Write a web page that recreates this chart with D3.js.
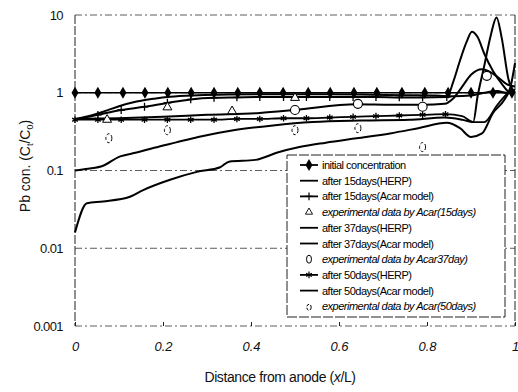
<!DOCTYPE html>
<html>
<head>
<meta charset="utf-8">
<script src="https://cdn.jsdelivr.net/npm/d3@7"></script>
<style>
  body { margin: 0; background: #fff; }
  svg { font-family: "Liberation Sans", Arial, sans-serif; }
</style>
</head>
<body>
<div id="chart"></div>
<script>
// ---- data ----
const initX = [0, 0.052, 0.109, 0.159, 0.211, 0.264, 0.316, 0.37, 0.42, 0.473, 0.53, 0.58, 0.634, 0.686, 0.743, 0.795, 0.848, 0.9, 0.95, 0.993];
const initY = [1, 1, 1, 1, 1, 1, 1, 1, 1, 1, 1, 1, 1, 1, 1, 1, 1, 1, 1, 1];

const herp15X = [0, 0.03, 0.064, 0.1, 0.14, 0.18, 0.216, 0.28, 0.35, 0.45, 0.55, 0.65, 0.75, 0.82, 0.86, 0.9, 0.93, 0.96, 0.98, 1];
const herp15Y = [0.46, 0.5, 0.57, 0.67, 0.77, 0.84, 0.89, 0.93, 0.95, 0.96, 0.96, 0.95, 0.93, 0.92, 0.9, 0.92, 1.0, 1.05, 1.0, 1.0];

const acar15X = [0, 0.052, 0.105, 0.158, 0.21, 0.263, 0.316, 0.368, 0.42, 0.474, 0.526, 0.579, 0.632, 0.684, 0.737, 0.79, 0.845, 0.86, 0.875, 0.89, 0.902, 0.915, 0.93, 0.95, 0.97, 0.99, 1];
const acar15Y = [0.45, 0.52, 0.6, 0.66, 0.74, 0.82, 0.86, 0.87, 0.88, 0.88, 0.88, 0.88, 0.88, 0.88, 0.87, 0.87, 0.88, 1.4, 2.6, 4.5, 6.1, 5.2, 3.2, 1.9, 1.3, 1.0, 1.05];

const exp15X = [0.073, 0.21, 0.357, 0.5];
const exp15Y = [0.45, 0.65, 0.58, 0.86];

const herp37X = [0, 0.1, 0.2, 0.3, 0.42, 0.5, 0.64, 0.72, 0.79, 0.84, 0.86, 0.88, 0.9, 0.925, 0.94, 0.96, 0.98, 1];
const herp37Y = [0.46, 0.47, 0.49, 0.52, 0.55, 0.6, 0.71, 0.7, 0.7, 0.72, 0.85, 1.2, 1.7, 2.0, 1.9, 1.6, 1.3, 1.2];

const acar37X = [0, 0.03, 0.064, 0.1, 0.14, 0.18, 0.23, 0.28, 0.36, 0.45, 0.54, 0.65, 0.76, 0.84, 0.88, 0.905, 0.915, 0.93, 0.945, 0.958, 0.97, 0.985, 1];
const acar37Y = [0.1, 0.105, 0.115, 0.15, 0.17, 0.196, 0.23, 0.27, 0.33, 0.38, 0.42, 0.44, 0.45, 0.48, 0.45, 0.42, 0.9, 2.2, 5.5, 9.3, 5.0, 1.5, 1.0];

const exp37X = [0.5, 0.643, 0.79, 0.936];
const exp37Y = [0.6, 0.72, 0.66, 1.65];

const herp50X = [0, 0.052, 0.105, 0.158, 0.21, 0.263, 0.316, 0.368, 0.42, 0.474, 0.526, 0.579, 0.632, 0.684, 0.737, 0.79, 0.842, 0.88, 0.905, 0.93, 0.96, 0.985, 1];
const herp50Y = [0.45, 0.45, 0.45, 0.45, 0.45, 0.45, 0.45, 0.46, 0.46, 0.47, 0.47, 0.48, 0.49, 0.5, 0.51, 0.52, 0.53, 0.5, 0.42, 0.42, 0.7, 1.0, 1.1];

const acar50X = [0, 0.027, 0.064, 0.125, 0.155, 0.216, 0.277, 0.33, 0.35, 0.41, 0.46, 0.51, 0.57, 0.64, 0.716, 0.78, 0.845, 0.875, 0.9, 0.925, 0.95, 0.975, 0.99, 1];
const acar50Y = [0.016, 0.038, 0.04, 0.046, 0.056, 0.076, 0.096, 0.11, 0.13, 0.137, 0.17, 0.2, 0.228, 0.26, 0.3, 0.35, 0.41, 0.35, 0.27, 0.3, 0.55, 0.8, 1.2, 2.4];

const exp50X = [0.077, 0.21, 0.5, 0.643, 0.79];
const exp50Y = [0.26, 0.33, 0.33, 0.35, 0.2];

const xTicks = [0, 0.2, 0.4, 0.6, 0.8, 1];
const xTickLabels = ["0", "0.2", "0.4", "0.6", "0.8", "1"];
const yTicks = [0.001, 0.01, 0.1, 1, 10];
const yTickLabels = ["0.001", "0.01", "0.1", "1", "10"];

const legendLabels = [
  "initial concentration",
  "after 15days(HERP)",
  "after 15days(Acar model)",
  "experimental data by Acar(15days)",
  "after 37days(HERP)",
  "after 37days(Acar model)",
  "experimental data by Acar37day)",
  "after 50days(HERP)",
  "after 50days(Acar model)",
  "experimental data by Acar(50days)"
];

// ---- drawing ----
const W = 518, H = 392;
const svg = d3.select("#chart").append("svg").attr("width", W).attr("height", H);

const x = d3.scaleLinear().domain([0, 1]).range([75, 515]);
const y = d3.scaleLog().domain([0.001, 10]).range([326, 15]);

const zip = (xs, ys) => xs.map((v, i) => [v, ys[i]]);

// grid (dashed decade lines)
svg.append("g").selectAll("line").data(yTicks).enter().append("line")
  .attr("x1", x(0)).attr("x2", x(1))
  .attr("y1", d => y(d)).attr("y2", d => y(d))
  .attr("stroke", "#333").attr("stroke-width", 0.8)
  .attr("stroke-dasharray", "7,3,2,3");

// plot frame sides
svg.append("line").attr("x1", x(0)).attr("x2", x(0)).attr("y1", y(10)).attr("y2", y(0.001))
  .attr("stroke", "#222").attr("stroke-width", 1).attr("stroke-dasharray", "9,2");
svg.append("line").attr("x1", x(1)).attr("x2", x(1)).attr("y1", y(10)).attr("y2", y(0.001))
  .attr("stroke", "#222").attr("stroke-width", 1).attr("stroke-dasharray", "9,2");

// x axis ticks pointing inwards
const xAxis = d3.axisBottom(x).tickValues(xTicks).tickSize(-4).tickFormat((d, i) => xTickLabels[i]).tickPadding(16);
const gx = svg.append("g").attr("transform", `translate(0,${y(0.001)})`).call(xAxis);
gx.select(".domain").remove();
gx.selectAll("line").attr("stroke", "#222");
gx.selectAll("text").attr("font-size", 13).attr("font-style", "italic").attr("fill", "#111");

const yAxis = d3.axisLeft(y).tickValues(yTicks).tickSize(0).tickFormat((d, i) => yTickLabels[i]).tickPadding(12);
const gy = svg.append("g").attr("transform", `translate(${x(0)},0)`).call(yAxis);
gy.select(".domain").remove();
gy.selectAll("text").attr("font-size", 13).attr("fill", "#111").attr("letter-spacing", -0.6);

// axis titles
svg.append("text").attr("x", 280).attr("y", 382).attr("text-anchor", "middle")
  .attr("font-size", 14).attr("letter-spacing", -0.4).attr("fill", "#111")
  .html('Distance from anode (<tspan font-style="italic">x</tspan>/L)');
const yt = svg.append("text").attr("transform", "translate(30,166) rotate(-90)")
  .attr("text-anchor", "middle").attr("font-size", 14).attr("fill", "#111");
yt.append("tspan").text("Pb con. (C");
yt.append("tspan").attr("font-size", 9).attr("dy", 3).text("t");
yt.append("tspan").attr("dy", -3).text("/C");
yt.append("tspan").attr("font-size", 9).attr("dy", 3).text("0");
yt.append("tspan").attr("dy", -3).text(")");

const line = d3.line().x(d => x(d[0])).y(d => y(d[1])).curve(d3.curveMonotoneX);
const plot = svg.append("g");

function drawLine(xs, ys, w) {
  plot.append("path").datum(zip(xs, ys)).attr("d", line)
    .attr("fill", "none").attr("stroke", "#000").attr("stroke-width", w)
    .attr("stroke-linejoin", "round");
}

drawLine(acar50X, acar50Y, 2);
drawLine(acar37X, acar37Y, 2);
drawLine(herp50X, herp50Y, 1.8);
drawLine(herp37X, herp37Y, 2);
drawLine(acar15X, acar15Y, 2);
drawLine(herp15X, herp15Y, 2);
drawLine(initX, initY, 1.6);

// markers
const diamond = d3.symbol().type(d3.symbolDiamond).size(42);
const star = d3.symbol().type(d3.symbolAsterisk).size(30);
const plus = d3.symbol().type(d3.symbolPlus).size(22);
const tri = d3.symbol().type(d3.symbolTriangle).size(34);

plot.append("g").selectAll("path").data(zip(initX, initY)).enter().append("path")
  .attr("d", diamond).attr("transform", d => `translate(${x(d[0])},${y(d[1])})`).attr("fill", "#000");

plot.append("g").selectAll("path").data(zip(herp50X, herp50Y).filter(d => d[0] < 0.85)).enter().append("path")
  .attr("d", star).attr("transform", d => `translate(${x(d[0])},${y(d[1])})`)
  .attr("fill", "none").attr("stroke", "#000").attr("stroke-width", 1.3);

plot.append("g").selectAll("path").data(zip(acar15X, acar15Y).filter(d => d[0] > 0.04 && d[0] < 0.85)).enter().append("path")
  .attr("d", plus).attr("transform", d => `translate(${x(d[0])},${y(d[1])})`)
  .attr("fill", "none").attr("stroke", "#000").attr("stroke-width", 1.3);

plot.append("g").selectAll("path").data(zip(exp15X, exp15Y)).enter().append("path")
  .attr("d", tri).attr("transform", d => `translate(${x(d[0])},${y(d[1])})`)
  .attr("fill", "#fff").attr("stroke", "#000").attr("stroke-width", 1);

plot.append("g").selectAll("circle").data(zip(exp37X, exp37Y)).enter().append("circle")
  .attr("cx", d => x(d[0])).attr("cy", d => y(d[1])).attr("r", 4.5)
  .attr("fill", "#fff").attr("stroke", "#000").attr("stroke-width", 1.1);

plot.append("g").selectAll("ellipse").data(zip(exp50X, exp50Y)).enter().append("ellipse")
  .attr("cx", d => x(d[0])).attr("cy", d => y(d[1])).attr("rx", 3).attr("ry", 4.5)
  .attr("fill", "none").attr("stroke", "#000").attr("stroke-width", 1)
  .attr("stroke-dasharray", "3,2");

// legend
const lg = svg.append("g");
lg.append("rect").attr("x", 287).attr("y", 155).attr("width", 218).attr("height", 162)
  .attr("fill", "#fff").attr("stroke", "#222").attr("stroke-width", 1).attr("stroke-dasharray", "10,2");

const rowY = i => 165 + i * 15.7;
const kinds = ["diamond", "line", "plus", "tri", "line", "line", "O", "star", "line", "o"];
legendLabels.forEach((lab, i) => {
  const yy = rowY(i);
  const k = kinds[i];
  if (["diamond", "line", "plus", "star"].includes(k)) {
    lg.append("line").attr("x1", 300).attr("x2", 318).attr("y1", yy).attr("y2", yy)
      .attr("stroke", "#000").attr("stroke-width", 1.8);
  }
  const tr = `translate(309,${yy})`;
  if (k === "diamond") lg.append("path").attr("d", diamond).attr("transform", tr).attr("fill", "#000");
  if (k === "plus") lg.append("path").attr("d", plus).attr("transform", tr).attr("fill", "none").attr("stroke", "#000").attr("stroke-width", 1.2);
  if (k === "star") lg.append("path").attr("d", star).attr("transform", tr).attr("fill", "none").attr("stroke", "#000").attr("stroke-width", 1.2);
  if (k === "tri") lg.append("path").attr("d", d3.symbol().type(d3.symbolTriangle).size(22)).attr("transform", tr).attr("fill", "none").attr("stroke", "#000").attr("stroke-width", 0.9);
  if (k === "O") lg.append("ellipse").attr("cx", 309).attr("cy", yy).attr("rx", 2.5).attr("ry", 4).attr("fill", "none").attr("stroke", "#000").attr("stroke-width", 1);
  if (k === "o") lg.append("ellipse").attr("cx", 309).attr("cy", yy + 1).attr("rx", 2.2).attr("ry", 3).attr("fill", "none").attr("stroke", "#000").attr("stroke-width", 1).attr("stroke-dasharray", "3,1.5");
  lg.append("text").attr("x", 322).attr("y", yy + 4).attr("font-size", 11)
    .attr("letter-spacing", -0.5).attr("fill", "#000")
    .attr("font-style", lab.startsWith("experimental") ? "italic" : "normal")
    .text(lab);
});
</script>
</body>
</html>
